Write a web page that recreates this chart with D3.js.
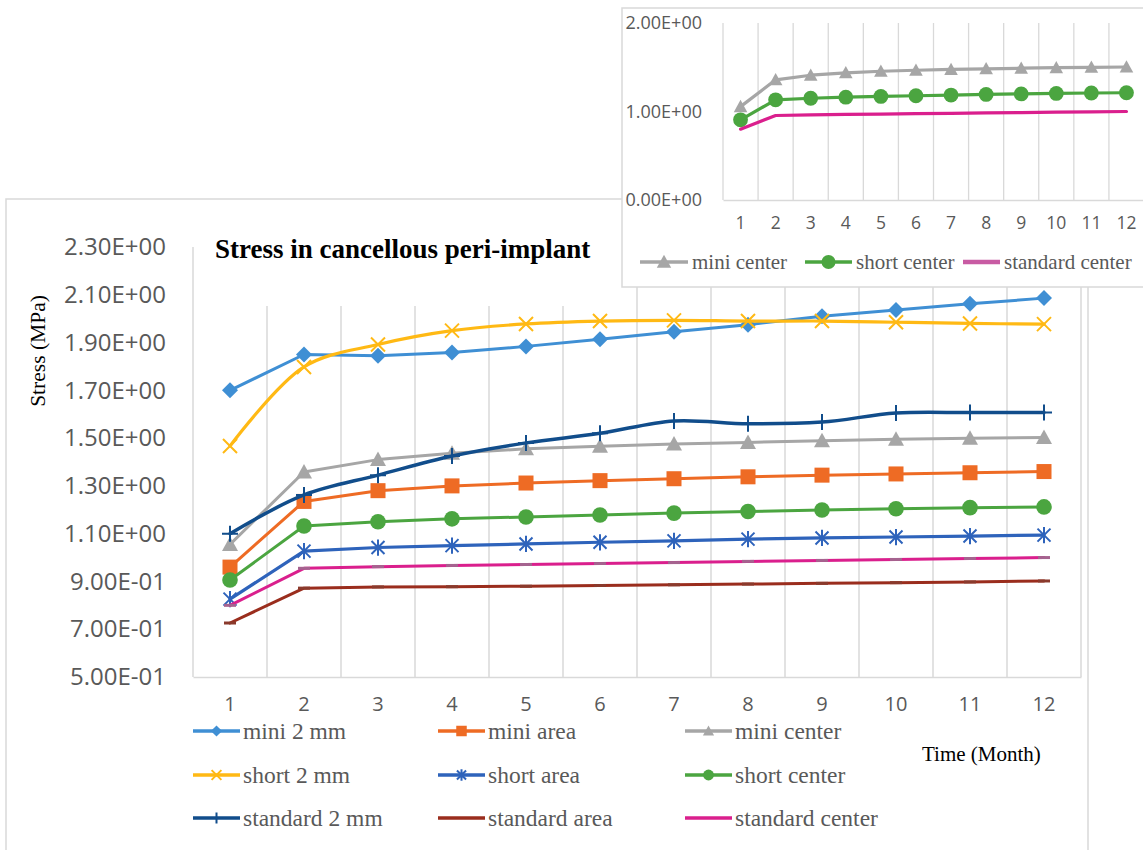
<!DOCTYPE html>
<html>
<head>
<meta charset="utf-8">
<script src="https://cdn.jsdelivr.net/npm/d3@7"></script>
<style>
  html, body { margin: 0; padding: 0; background: #fff; }
  svg { display: block; }
</style>
</head>
<body>
<svg id="chart" width="1143" height="850"></svg>
<script>
// ---- data -------------------------------------------------------------
const months = [1, 2, 3, 4, 5, 6, 7, 8, 9, 10, 11, 12];
const yTicks = [0.5, 0.7, 0.9, 1.1, 1.3, 1.5, 1.7, 1.9, 2.1, 2.3];
const insetTicks = [0, 1, 2];

const mini2mm       = [1.700, 1.850, 1.845, 1.858, 1.884, 1.914, 1.945, 1.975, 2.010, 2.036, 2.062, 2.086];
const miniArea      = [0.960, 1.235, 1.280, 1.300, 1.312, 1.322, 1.330, 1.338, 1.345, 1.350, 1.355, 1.360];
const miniCenter    = [1.055, 1.358, 1.410, 1.437, 1.455, 1.466, 1.475, 1.482, 1.489, 1.495, 1.499, 1.503];
const short2mm      = [1.467, 1.798, 1.892, 1.950, 1.978, 1.990, 1.993, 1.990, 1.990, 1.985, 1.980, 1.977];
const shortArea     = [0.826, 1.027, 1.042, 1.050, 1.057, 1.064, 1.070, 1.077, 1.082, 1.086, 1.090, 1.094];
const shortCenter   = [0.906, 1.132, 1.150, 1.162, 1.170, 1.178, 1.186, 1.193, 1.199, 1.204, 1.209, 1.212];
const standard2mm   = [1.100, 1.262, 1.345, 1.425, 1.480, 1.520, 1.572, 1.560, 1.567, 1.605, 1.607, 1.607];
const standardArea  = [0.726, 0.872, 0.877, 0.878, 0.880, 0.883, 0.886, 0.889, 0.892, 0.895, 0.898, 0.902];
const standardCenter= [0.800, 0.955, 0.962, 0.967, 0.971, 0.975, 0.979, 0.984, 0.988, 0.992, 0.996, 1.000];

const seriesNames  = ["mini 2 mm", "mini area", "mini center",
                      "short 2 mm", "short area", "short center",
                      "standard 2 mm", "standard area", "standard center"];
const seriesValues = [mini2mm, miniArea, miniCenter, short2mm, shortArea, shortCenter,
                      standard2mm, standardArea, standardCenter];
const insetNames   = ["mini center", "short center", "standard center"];
const insetValues  = [miniCenter, shortCenter, standardCenter];

// ---- styling ----------------------------------------------------------
const styles = {
  "mini 2 mm":       { color: "#3f8fd4", marker: "diamond", smooth: false, width: 3 },
  "mini area":       { color: "#ee6b24", marker: "square",  smooth: false, width: 3 },
  "mini center":     { color: "#a6a6a6", marker: "triangle",smooth: false, width: 3 },
  "short 2 mm":      { color: "#ffb914", marker: "x",       smooth: true,  width: 3.2 },
  "short area":      { color: "#2e63bb", marker: "asterisk",smooth: false, width: 3.2 },
  "short center":    { color: "#4ba540", marker: "circle",  smooth: false, width: 3 },
  "standard 2 mm":   { color: "#114d8b", marker: "plus",    smooth: true,  width: 3.5 },
  "standard area":   { color: "#9a2d1d", marker: "dash",    smooth: false, width: 3, markColor: "#8a3a2c" },
  "standard center": { color: "#da1f8d", marker: "dash",    smooth: false, width: 3, markColor: "#a5638f" }
};

const AXIS_GREY = "#d9d9d9";
const TEXT_GREY = "#595959";
const SANS = "'Open Sans', 'Liberation Sans', sans-serif";
const SERIF = "'Liberation Serif', 'Times New Roman', serif";

function sci(d) {
  const [m, e] = d.toExponential(2).split("e");
  const sign = e[0];
  const digits = e.slice(1).padStart(2, "0");
  return m + "E" + sign + digits;
}

// marker glyphs, drawn around (0,0) with scale k
function drawMarker(g, type, color, k, markColor) {
  const r = 8 * k;
  switch (type) {
    case "diamond":
      g.append("path").attr("d", `M0,${-r}L${r},0L0,${r}L${-r},0Z`).attr("fill", color);
      break;
    case "square":
      g.append("rect").attr("x", -7.5 * k).attr("y", -7.5 * k)
        .attr("width", 15 * k).attr("height", 15 * k).attr("fill", color);
      break;
    case "triangle":
      g.append("path").attr("d", `M0,${-8 * k}L${8 * k},${6.5 * k}L${-8 * k},${6.5 * k}Z`).attr("fill", color);
      break;
    case "circle":
      g.append("circle").attr("r", 7.8 * k).attr("fill", color);
      break;
    case "x": {
      const a = 7 * k;
      g.append("path").attr("d", `M${-a},${-a}L${a},${a}M${-a},${a}L${a},${-a}`)
        .attr("stroke", color).attr("stroke-width", 2).attr("fill", "none");
      break;
    }
    case "asterisk": {
      const a = 6.5 * k;
      g.append("path").attr("d", `M${-a},${-a}L${a},${a}M${-a},${a}L${a},${-a}M0,${-a * 1.25}L0,${a * 1.25}`)
        .attr("stroke", color).attr("stroke-width", 2).attr("fill", "none");
      break;
    }
    case "plus": {
      const a = 8 * k;
      g.append("path").attr("d", `M${-a},0L${a},0M0,${-a}L0,${a}`)
        .attr("stroke", color).attr("stroke-width", 2).attr("fill", "none");
      break;
    }
    case "dash": {
      const a = 6 * k;
      g.append("path").attr("d", `M${-a},0L${a},0`)
        .attr("stroke", markColor || color).attr("stroke-width", 3).attr("fill", "none");
      break;
    }
  }
}

const svg = d3.select("#chart");

// ---- main chart -------------------------------------------------------
svg.append("rect").attr("x", 6).attr("y", 199).attr("width", 1082).attr("height", 700)
  .attr("fill", "#fff").attr("stroke", AXIS_GREY).attr("stroke-width", 1.5);

const x = d3.scaleBand().domain(months).range([193, 1081]).paddingInner(0).paddingOuter(0);
const y = d3.scaleLinear().domain([0.5, 2.3]).range([677, 247]);
const cx = m => x(m) + x.bandwidth() / 2;

// vertical gridlines at category boundaries
const bounds = months.map(m => x(m)).concat([x.range()[1]]);
svg.append("g").selectAll("line").data(bounds).join("line")
  .attr("x1", d => d).attr("x2", d => d)
  .attr("y1", y(2.3)).attr("y2", y(0.5))
  .attr("stroke", AXIS_GREY).attr("stroke-width", 1.5);

// y axis labels
const yAxis = svg.append("g").attr("transform", "translate(166,0)")
  .call(d3.axisLeft(y).tickValues(yTicks).tickFormat(sci).tickSize(0).tickPadding(0));
yAxis.select(".domain").remove();
yAxis.selectAll("text").attr("font-family", SANS).attr("font-size", 24).attr("fill", TEXT_GREY);

// x axis
const xAxis = svg.append("g").attr("transform", `translate(0,${y(0.5)})`)
  .call(d3.axisBottom(x).tickSize(0).tickPadding(20));
xAxis.select(".domain").attr("stroke", AXIS_GREY).attr("stroke-width", 1.5);
xAxis.selectAll("text").attr("font-family", SANS).attr("font-size", 20).attr("fill", TEXT_GREY);

// title block (white backing hides gridlines behind it)
svg.append("rect").attr("x", 200).attr("y", 222).attr("width", 421).attr("height", 84).attr("fill", "#fff");
svg.append("text").attr("x", 215).attr("y", 258)
  .attr("font-family", SERIF).attr("font-weight", "bold").attr("font-size", 27).attr("fill", "#000")
  .text("Stress in cancellous peri-implant");

// axis titles
svg.append("text").attr("transform", "translate(45,351) rotate(-90)")
  .attr("text-anchor", "middle").attr("font-family", SERIF).attr("font-size", 21.5).attr("fill", "#000")
  .text("Stress (MPa)");
svg.append("text").attr("x", 922).attr("y", 761)
  .attr("font-family", SERIF).attr("font-size", 21).attr("fill", "#000")
  .text("Time (Month)");

// series
const lineStraight = d3.line().x((d, i) => cx(months[i])).y(d => y(d));
const lineSmooth = d3.line().x((d, i) => cx(months[i])).y(d => y(d)).curve(d3.curveCatmullRom.alpha(0.5));

const seriesG = svg.append("g");
seriesNames.forEach((name, si) => {
  const st = styles[name];
  const vals = seriesValues[si];
  const g = seriesG.append("g");
  g.append("path").attr("d", (st.smooth ? lineSmooth : lineStraight)(vals))
    .attr("fill", "none").attr("stroke", st.color).attr("stroke-width", st.width)
    .attr("stroke-linejoin", "round").attr("stroke-linecap", "round");
  vals.forEach((v, i) => {
    const mg = g.append("g").attr("transform", `translate(${cx(months[i])},${y(v)})`);
    drawMarker(mg, st.marker, st.color, 1, st.markColor);
  });
});

// legend (3 x 3)
const legCols = [193, 438, 685];
const legRows = [731, 775, 818];
const legend = svg.append("g");
seriesNames.forEach((name, i) => {
  const st = styles[name];
  const lx = legCols[i % 3], ly = legRows[Math.floor(i / 3)];
  const g = legend.append("g").attr("transform", `translate(${lx},${ly})`);
  g.append("line").attr("x1", 0).attr("x2", 47).attr("y1", 0).attr("y2", 0)
    .attr("stroke", st.color).attr("stroke-width", 3.5);
  const mg = g.append("g").attr("transform", "translate(23.5,0)");
  if (st.marker !== "dash") drawMarker(mg, st.marker, st.color, 0.7, st.markColor);
  g.append("text").attr("x", 50).attr("y", 8)
    .attr("font-family", SERIF).attr("font-size", 23.5).attr("fill", TEXT_GREY)
    .text(name);
});

// ---- inset chart (center series, full scale) --------------------------
const inset = svg.append("g");
inset.append("rect").attr("x", 622).attr("y", 8).attr("width", 600).attr("height", 279)
  .attr("fill", "#fff").attr("stroke", AXIS_GREY).attr("stroke-width", 1.5);

const ix = d3.scaleBand().domain(months).range([723, 1144]);
const iy = d3.scaleLinear().domain([0, 2]).range([200, 23]);
const icx = m => ix(m) + ix.bandwidth() / 2;

const ibounds = months.map(m => ix(m)).concat([ix.range()[1]]);
inset.append("g").selectAll("line").data(ibounds).join("line")
  .attr("x1", d => d).attr("x2", d => d).attr("y1", iy(2)).attr("y2", iy(0))
  .attr("stroke", AXIS_GREY).attr("stroke-width", 1.3);

const iyAxis = inset.append("g").attr("transform", "translate(702,0)")
  .call(d3.axisLeft(iy).tickValues(insetTicks).tickFormat(sci).tickSize(0).tickPadding(0));
iyAxis.select(".domain").remove();
iyAxis.selectAll("text").attr("font-family", SANS).attr("font-size", 18).attr("fill", TEXT_GREY);

const ixAxis = inset.append("g").attr("transform", `translate(0,${iy(0)})`)
  .call(d3.axisBottom(ix).tickSize(0).tickPadding(17));
ixAxis.select(".domain").attr("stroke", AXIS_GREY).attr("stroke-width", 1.5);
ixAxis.selectAll("text").attr("font-family", SANS).attr("font-size", 17.5).attr("fill", TEXT_GREY);

const iLine = d3.line().x((d, i) => icx(months[i])).y(d => iy(d));

insetNames.forEach((name, si) => {
  const st = styles[name];
  const vals = insetValues[si];
  const g = inset.append("g");
  const isStd = name === "standard center";
  g.append("path").attr("d", iLine(vals))
    .attr("fill", "none").attr("stroke", st.color).attr("stroke-width", 3.2)
    .attr("stroke-linejoin", "round").attr("stroke-linecap", "round");
  if (!isStd) {
    vals.forEach((v, i) => {
      const mg = g.append("g").attr("transform", `translate(${icx(months[i])},${iy(v)})`);
      drawMarker(mg, st.marker, st.color, name === "short center" ? 0.95 : 0.85);
    });
  }
});

// inset legend
const iLegStart = [640, 805, 963];
const iLegLen = [48, 47, 37];
insetNames.forEach((name, i) => {
  const st = styles[name];
  const g = inset.append("g").attr("transform", `translate(${iLegStart[i]},262)`);
  const isStd = name === "standard center";
  g.append("line").attr("x1", 0).attr("x2", iLegLen[i]).attr("y1", 0).attr("y2", 0)
    .attr("stroke", isStd ? "#c85ba3" : st.color).attr("stroke-width", isStd ? 4.5 : 3.5);
  if (!isStd) {
    const mg = g.append("g").attr("transform", `translate(${iLegLen[i] / 2},0)`);
    drawMarker(mg, st.marker, st.color, 0.9);
  }
  g.append("text").attr("x", iLegLen[i] + 4).attr("y", 7)
    .attr("font-family", SERIF).attr("font-size", 21).attr("fill", TEXT_GREY)
    .text(name);
});
</script>
</body>
</html>
